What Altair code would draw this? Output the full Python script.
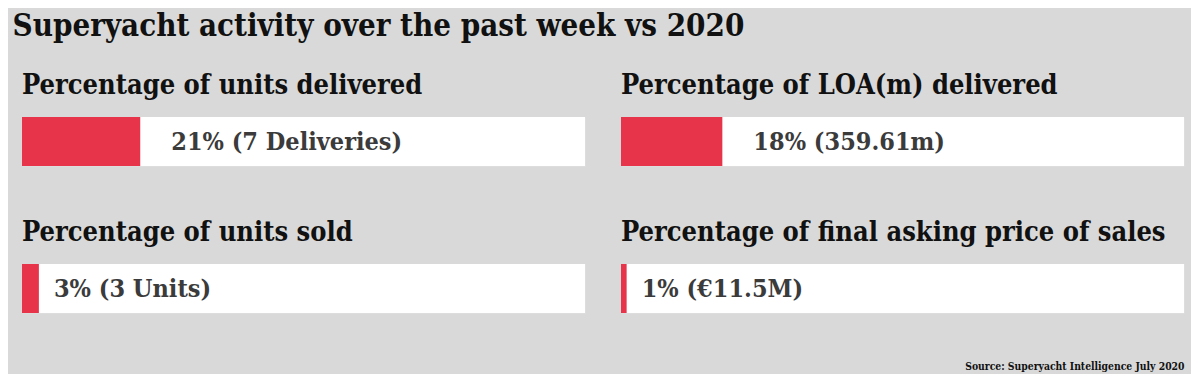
import altair as alt
import pandas as pd

# ---- data ----
metrics = [
    "Percentage of units delivered",
    "Percentage of LOA(m) delivered",
    "Percentage of units sold",
    "Percentage of final asking price of sales",
]
pcts = [21, 18, 3, 1]
details = ["7 Deliveries", "359.61m", "3 Units", "€11.5M"]
main_title = "Superyacht activity over the past week vs 2020"
source_text = "Source: Superyacht Intelligence July 2020"

df = pd.DataFrame({"metric": metrics, "pct": pcts, "detail": details})
df["label"] = [f"{p}% ({d})" for p, d in zip(pcts, details)]
df["full"] = 100
df["zero"] = 0

# ---- style ----
W, H = 563, 49
FONT = "DejaVu Serif Condensed"
BG = "#d9d9d9"
RED = "#e8344a"
x_scale = alt.Scale(domain=[0, 100], nice=False, zero=True)

base = alt.Chart()

track = base.mark_rect(color="white").encode(
    x=alt.X("zero:Q", scale=x_scale, axis=None),
    x2="full:Q",
    y=alt.value(0),
    y2=alt.value(H),
)
fill = base.mark_rect(color=RED).encode(
    x=alt.X("zero:Q", scale=x_scale, axis=None),
    x2="pct:Q",
    y=alt.value(0),
    y2=alt.value(H),
)
text_kw = dict(align="left", baseline="middle", font=FONT, fontWeight="bold",
               fontSize=25, color="#3b3b3b")
lab_big = base.transform_filter("datum.pct >= 10").mark_text(dx=31, **text_kw).encode(
    x=alt.X("pct:Q", scale=x_scale, axis=None),
    y=alt.value(H / 2),
    text="label:N",
)
lab_small = base.transform_filter("datum.pct < 10").mark_text(dx=15, **text_kw).encode(
    x=alt.X("pct:Q", scale=x_scale, axis=None),
    y=alt.value(H / 2),
    text="label:N",
)

panels = alt.layer(track, fill, lab_big, lab_small, data=df).properties(
    width=W, height=H
).facet(
    facet=alt.Facet(
        "metric:N",
        sort=metrics,
        header=alt.Header(
            title=None,
            labelFont=FONT,
            labelFontSize=27,
            labelFontWeight="bold",
            labelColor="#111111",
            labelAnchor="start",
            labelPadding=17,
        ),
    ),
    columns=2,
    spacing={"row": 51, "column": 34},
).properties(
    title=alt.TitleParams(
        source_text,
        orient="bottom",
        anchor="end",
        font=FONT,
        fontSize=10.3,
        fontWeight="bold",
        color="#111111",
        offset=48,
    )
)

chart = alt.vconcat(
    panels,
    title=alt.TitleParams(
        main_title,
        anchor="start",
        font=FONT,
        fontSize=31,
        fontWeight="bold",
        color="#111111",
        dx=-9,
        offset=29,
    ),
).configure_view(stroke=None).configure(
    background=BG,
    padding={"left": 4, "top": 2, "right": 6, "bottom": 2},
)

chart.save("out.html", embed_options={"renderer": "svg", "actions": False})
